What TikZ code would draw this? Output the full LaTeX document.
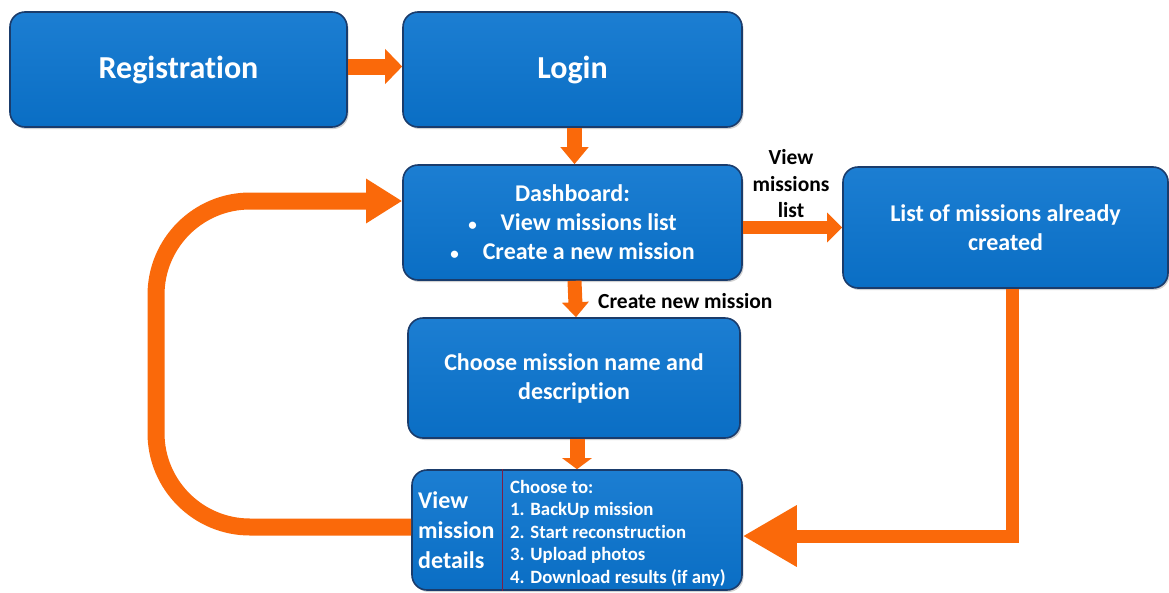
\documentclass[tikz,border=0pt]{standalone}
\usepackage{fontspec}
\setmainfont{Carlito}[Ligatures=NoCommon]
\usetikzlibrary{arrows.meta,calc,shadows}
\definecolor{boxblue}{RGB}{10,110,196}
\definecolor{boxtop}{RGB}{28,126,210}
\definecolor{boxedge}{RGB}{26,60,108}
\definecolor{arrorange}{RGB}{250,105,10}
\definecolor{divider}{RGB}{125,30,70}
\newcommand{\smbullet}{{\fontsize{17}{17}\selectfont\textbullet}}
\begin{document}
\begin{tikzpicture}[x=1pt,y=-1pt,
  bluebox/.style={draw=boxedge, line width=1.6pt, top color=boxtop, bottom color=boxblue,
    rounded corners=15pt, text=white, align=center, inner sep=0pt,
    drop shadow={shadow xshift=1.5pt, shadow yshift=-2pt, opacity=0.35}},
  bigtxt/.style={font=\fontsize{32}{38}\selectfont\bfseries},
  midtxt/.style={font=\fontsize{24}{29}\selectfont\bfseries},
  inbox/.style={text=white, align=left, inner sep=0pt, anchor=west},
  oarrow/.style={draw=arrorange, line cap=butt},
  lbl/.style={font=\fontsize{21.5}{26.5}\selectfont\bfseries, text=black, align=center, inner sep=0pt}
]
\path[use as bounding box, fill=white] (0,0) rectangle (1169,592);

% boxes
\node[bluebox, bigtxt, minimum width=337pt, minimum height=115pt] (reg) at (178.5,69.5) {Registration};
\node[bluebox, bigtxt, minimum width=339pt, minimum height=115pt] (login) at (572.5,69.5) {Login};
\node[bluebox, midtxt, minimum width=339pt, minimum height=115pt] (dash) at (572.5,222.5)
  {Dashboard:\\ \smbullet\hspace{24pt}View missions list\\ \smbullet\hspace{24pt}Create a new mission};
\node[bluebox, midtxt, minimum width=325pt, minimum height=121pt] (list) at (1005.5,227.5)
  {List of missions already\\ created};
\node[bluebox, midtxt, minimum width=332pt, minimum height=120pt] (choose) at (574,378)
  {Choose mission name and\\ description};
\node[bluebox, minimum width=330pt, minimum height=120pt] (details) at (577,530) {};

% divider and texts in details box
\coordinate (dtop) at ([xshift=91pt]details.north west);
\coordinate (dbot) at ([xshift=91pt]details.south west);
\draw[divider, line width=1pt] (dtop) -- (dbot);
\node[inbox, font=\fontsize{24}{30}\selectfont\bfseries] (dleft) at (418,530) {View\\ mission\\ details};
\node[inbox, font=\fontsize{18.8}{22.5}\selectfont\bfseries] (dright) at (510,533)
  {Choose to:\\ 1. BackUp mission\\ 2. Start reconstruction\\ 3. Upload photos\\ 4. Download results (if any)};

% labels
\node[lbl] (lview) at (791,184) {View\\ missions\\ list};
\node[lbl, anchor=west] (lcreate) at (598,301) {Create new mission};

% arrows
\draw[oarrow, line width=16pt, -{Triangle[length=17pt,width=34pt]}]
  ([yshift=3pt]reg.east) -- ([yshift=3pt]login.west);
\draw[oarrow, line width=15pt, -{Triangle[length=17pt,width=27pt]}]
  ([xshift=2pt]login.south) -- ([xshift=2pt]dash.north);
\draw[oarrow, line width=13pt, -{Triangle[length=15pt,width=29pt]}]
  (dash.east |- list.west) -- (list.west);
\draw[oarrow, line width=14pt, -{Triangle[length=15pt,width=26pt]}]
  ([xshift=2pt]dash.south) -- ([xshift=2pt]choose.north);
\draw[oarrow, line width=15pt, -{Triangle[length=11pt,width=29pt]}]
  (choose.south -| details.north) -- (details.north);
\draw[oarrow, line width=13pt, -{Triangle[length=54pt,width=58pt]}]
  ([xshift=7pt]list.south) |- ([yshift=-6pt]details.east);

% loop back arrow
\coordinate (lA) at ([yshift=3pt]details.west);
\coordinate (lB) at ([yshift=21.5pt]dash.west);
\coordinate (lx) at (156,0);
\draw[oarrow, line width=17pt, rounded corners=94pt, -{Triangle[length=36pt,width=42pt]}]
  (lA) -- (lA -| lx) -- (lB -| lx) -- (lB);
\end{tikzpicture}
\end{document}
